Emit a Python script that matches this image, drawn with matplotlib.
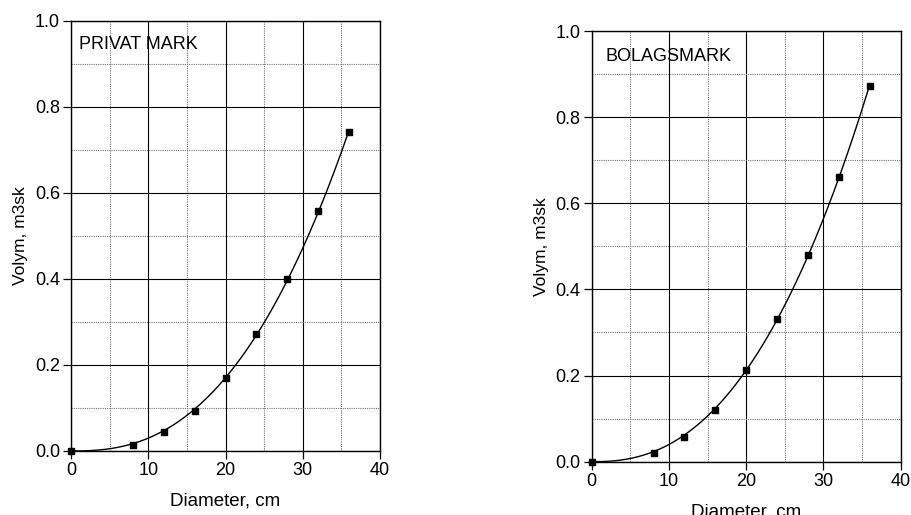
import numpy as np
import matplotlib
matplotlib.use("Agg")
from matplotlib import pyplot as plt
from matplotlib.ticker import MultipleLocator

plt.rcParams['font.family'] = ['Liberation Sans', 'DejaVu Sans']

# diameter classes (cm)
diameter = [0, 8, 12, 16, 20, 24, 28, 32, 36]

# volume per stem, m3sk
privat_vol = [0.0, 0.013, 0.043, 0.093, 0.170, 0.271, 0.400, 0.558, 0.742]
bolag_vol = [0.0, 0.021, 0.058, 0.121, 0.212, 0.331, 0.481, 0.661, 0.873]

panel_titles = ['PRIVAT MARK', 'BOLAGSMARK']


def power_fit(x, y):
    # least squares fit of y = a * x^b (scan b, solve a directly)
    x = np.asarray(x, float)
    y = np.asarray(y, float)
    best = None
    for b in np.linspace(1.5, 4.0, 2501):
        xb = x ** b
        a = np.sum(y * xb) / np.sum(xb * xb)
        err = np.sum((y - a * xb) ** 2)
        if best is None or err < best[0]:
            best = (err, a, b)
    _, a, b = best
    xs = np.linspace(0, x.max(), 300)
    return xs, a * xs ** b


def setup_panel(ax, title, title_pos):
    ax.set_xlim(0, 40)
    ax.set_ylim(0, 1.0)
    ax.xaxis.set_major_locator(MultipleLocator(10))
    ax.xaxis.set_minor_locator(MultipleLocator(5))
    ax.yaxis.set_major_locator(MultipleLocator(0.2))
    ax.yaxis.set_minor_locator(MultipleLocator(0.1))
    ax.yaxis.set_major_formatter(matplotlib.ticker.FormatStrFormatter('%.1f'))
    ax.grid(which='major', color='black', lw=0.8)
    ax.grid(which='minor', color='0.45', lw=0.8, linestyle=(0, (1, 1)))
    ax.set_axisbelow(True)
    ax.tick_params(which='major', direction='out', length=6, width=0.9,
                   labelsize=13, pad=2, top=False, right=False)
    ax.tick_params(which='minor', direction='out', length=0)
    for s in ax.spines.values():
        s.set_linewidth(1.0)
    ax.set_xlabel('Diameter, cm', fontsize=13.5, labelpad=10)
    ax.set_ylabel('Volym, m3sk', fontsize=12.5, labelpad=5)
    ax.text(title_pos[0], title_pos[1], title, transform=ax.transAxes,
            fontsize=13, ha='left', va='center')


fig = plt.figure(figsize=(9.12, 5.15), dpi=100)
ax1 = fig.add_axes([0.0779, 0.1243, 0.3388, 0.8355])
ax2 = fig.add_axes([0.6488, 0.1035, 0.3388, 0.8363])

for ax, vol, title, tpos in [
        (ax1, privat_vol, panel_titles[0], (0.026, 0.944)),
        (ax2, bolag_vol, panel_titles[1], (0.046, 0.94))]:
    xs, ys = power_fit(diameter, vol)
    ax.plot(xs, ys, color='black', lw=1.0, zorder=3, clip_on=False)
    ax.plot(diameter, vol, 's', color='black', markersize=4, zorder=4,
            clip_on=False)
    setup_panel(ax, title, tpos)

fig.savefig('out.png', dpi=100)
